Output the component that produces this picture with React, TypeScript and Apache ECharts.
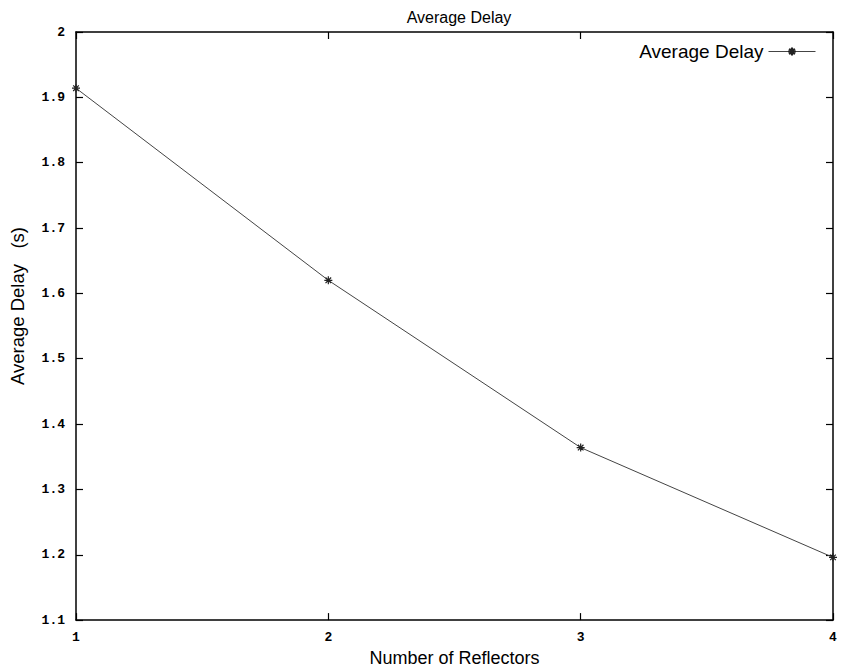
import React, { useEffect, useRef } from "react";
import * as echarts from "echarts";

const reflectors = [1, 2, 3, 4];
const averageDelay = [1.914, 1.62, 1.364, 1.196];
const yTicks = { min: 1.1, max: 2, interval: 0.1 };
const xTicks = { min: 1, max: 4, interval: 1 };

const star = "path://M0,5L10,5M5,0L5,10M1.5,1.5L8.5,8.5M8.5,1.5L1.5,8.5";

export default function App() {
  const ref = useRef<HTMLDivElement>(null);
  useEffect(() => {
    if (!ref.current) return;
    const chart = echarts.init(ref.current, null, { renderer: "svg" });
    const tickFont = { fontFamily: "Liberation Mono", fontWeight: "bold" as const, fontSize: 13, color: "#000" };
    const axisLine = { show: true, lineStyle: { color: "#000", width: 1.5 } };
    const axisTick = { show: true, inside: true, length: 7, lineStyle: { color: "#000", width: 1.2 } };
    chart.setOption({
      animation: false,
      backgroundColor: "#fff",
      title: {
        text: "Average Delay",
        left: 454,
        textAlign: "center",
        top: 4,
        textStyle: { fontFamily: "Liberation Sans", fontWeight: "normal", fontSize: 16, color: "#000" },
      },
      legend: {
        data: ["Average Delay"],
        right: 20,
        top: 37,
        align: "right",
        itemWidth: 47,
        itemHeight: 10,
        itemGap: 10,
        lineStyle: { width: 1, color: "#444" },
        textStyle: { fontFamily: "Liberation Sans", fontSize: 19, color: "#000" },
      },
      grid: { left: 73, right: 8, top: 32, bottom: 43, containLabel: false },
      xAxis: [
        {
          type: "value",
          min: xTicks.min,
          max: xTicks.max,
          interval: xTicks.interval,
          name: "Number of Reflectors",
          nameLocation: "middle",
          nameGap: 23,
          nameTextStyle: { fontFamily: "Liberation Sans", fontSize: 18, color: "#000" },
          axisLine,
          axisTick,
          axisLabel: { ...tickFont, margin: 11 },
          splitLine: { show: false },
        },
        {
          type: "value",
          position: "top",
          min: xTicks.min,
          max: xTicks.max,
          interval: xTicks.interval,
          axisLine,
          axisTick,
          axisLabel: { show: false },
          splitLine: { show: false },
        },
      ],
      yAxis: [
        {
          type: "value",
          min: yTicks.min,
          max: yTicks.max,
          interval: yTicks.interval,
          name: "Average Delay   (s)",
          nameLocation: "middle",
          nameGap: 49,
          nameTextStyle: { fontFamily: "Liberation Sans", fontSize: 18.5, color: "#000", padding: [0, 0, 0, 40] },
          axisLine,
          axisTick,
          axisLabel: { ...tickFont, margin: 11, formatter: (v: number) => (Math.round(v * 10) / 10).toString() },
          splitLine: { show: false },
        },
        {
          type: "value",
          position: "right",
          min: yTicks.min,
          max: yTicks.max,
          interval: yTicks.interval,
          axisLine,
          axisTick,
          axisLabel: { show: false },
          splitLine: { show: false },
        },
      ],
      series: [
        {
          name: "Average Delay",
          type: "line",
          data: reflectors.map((x, i) => [x, averageDelay[i]]),
          symbol: star,
          symbolSize: 8,
          showSymbol: true,
          lineStyle: { color: "#444", width: 1 },
          itemStyle: { color: "transparent", borderColor: "#222", borderWidth: 1.2 },
        },
      ],
    });
    return () => chart.dispose();
  }, []);
  return <div ref={ref} style={{ width: 841, height: 672, position: "absolute", left: 0, top: 0 }} />;
}
